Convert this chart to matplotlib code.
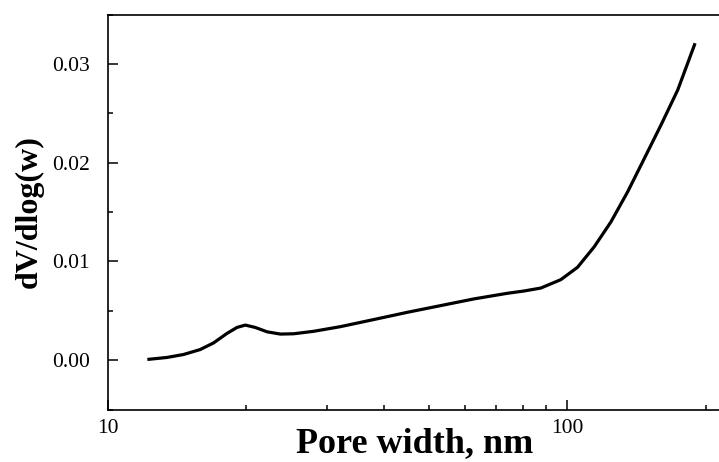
import matplotlib
matplotlib.use("Agg")
import matplotlib.pyplot as plt
from matplotlib.ticker import FixedLocator, NullFormatter, MultipleLocator, FormatStrFormatter

# pore-size distribution
pore_width = [12.20, 13.45, 14.62, 15.89, 16.99, 18.17, 19.11, 19.93, 20.95,
              22.22, 23.75, 25.39, 28.07, 32.09, 37.93, 44.85, 53.01, 62.66,
              74.10, 80.5, 87.6, 96.85, 105.3, 114.5, 124.5, 135.4, 147.2,
              160.0, 174.0, 189.8]
dv_dlogw = [0.00007, 0.00027, 0.00057, 0.00107, 0.00174, 0.00270, 0.00331,
            0.00355, 0.00331, 0.00287, 0.00264, 0.00267, 0.00292, 0.00339,
            0.00411, 0.00484, 0.00552, 0.00620, 0.00677, 0.00700, 0.00730,
            0.00815, 0.00940, 0.01148, 0.01400, 0.01705, 0.02043, 0.02381,
            0.02736, 0.03209]

x_major = [10, 100]
x_minor = [20, 30, 40, 50, 60, 70, 80, 90, 200]

plt.rcParams["font.family"] = ["Liberation Serif", "DejaVu Serif"]

fig = plt.figure(figsize=(7.19, 4.62), dpi=100)
ax = fig.add_axes([0.1498, 0.1136, 0.855, 0.855])

ax.plot(pore_width, dv_dlogw, color="black", lw=2.3,
        solid_joinstyle="round", solid_capstyle="butt")

ax.set_xscale("log")
ax.set_xlim(10, 217.7)
ax.set_ylim(-0.005, 0.035)

ax.xaxis.set_major_locator(FixedLocator(x_major))
ax.xaxis.set_minor_locator(FixedLocator(x_minor))
ax.xaxis.set_major_formatter(FormatStrFormatter("%d"))
ax.xaxis.set_minor_formatter(NullFormatter())
ax.yaxis.set_major_locator(MultipleLocator(0.01))
ax.yaxis.set_minor_locator(MultipleLocator(0.005))
ax.yaxis.set_major_formatter(FormatStrFormatter("%.2f"))

ax.tick_params(which="both", direction="in", labelsize=15.5, width=1.1)
ax.tick_params(which="major", length=7)
ax.tick_params(which="minor", length=3.5)
ax.tick_params(axis="y", pad=13)
ax.tick_params(axis="x", pad=7)

for s in ax.spines.values():
    s.set_linewidth(1.2)

ax.set_xlabel("Pore width, nm", fontsize=26, fontweight="bold", labelpad=-8)
ax.set_ylabel("dV/dlog(w)", fontsize=23, fontweight="bold", labelpad=6)

fig.savefig("out.png", dpi=100)
